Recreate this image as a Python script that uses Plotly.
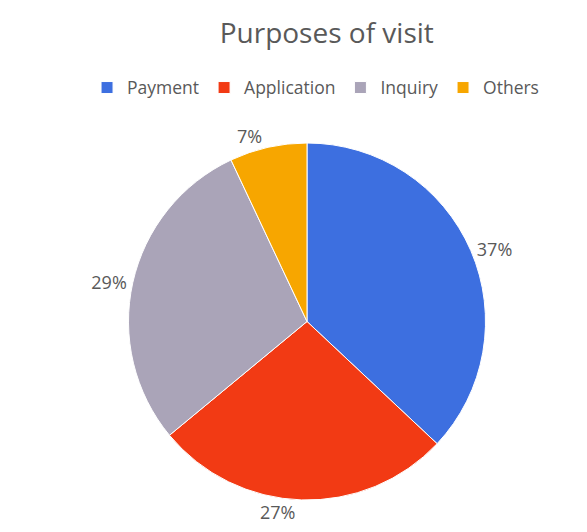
import plotly.graph_objects as go

categories = ["Payment", "Application", "Inquiry", "Others"]
shares = [37, 27, 29, 7]
colors = ["#3d6fe0", "#f23a14", "#aaa4b8", "#f7a600"]

fig = go.Figure(go.Pie(
    labels=categories,
    values=shares,
    sort=False,
    direction="clockwise",
    rotation=0,
    marker=dict(colors=colors, line=dict(color="#ffffff", width=1)),
    textinfo="percent",
    texttemplate="%{percent:.0%}",
    textposition="outside",
    textfont=dict(size=18, color="#595959", family="Open Sans"),
    domain=dict(x=[0.03, 0.97], y=[0.0, 1.0]),
))

fig.update_layout(
    width=587, height=532,
    paper_bgcolor="white",
    margin=dict(l=0, r=0, t=135, b=40),
    title=dict(text="Purposes of visit", x=0.543, y=0.953, xanchor="center", yanchor="middle",
               font=dict(size=28, color="#595959", family="Open Sans")),
    legend=dict(orientation="h", x=0.03, xanchor="left", y=1.155, yanchor="middle",
                font=dict(size=17.5, color="#595959", family="Open Sans"),
                itemwidth=30),
    showlegend=True,
)

fig.write_html("out.html")
